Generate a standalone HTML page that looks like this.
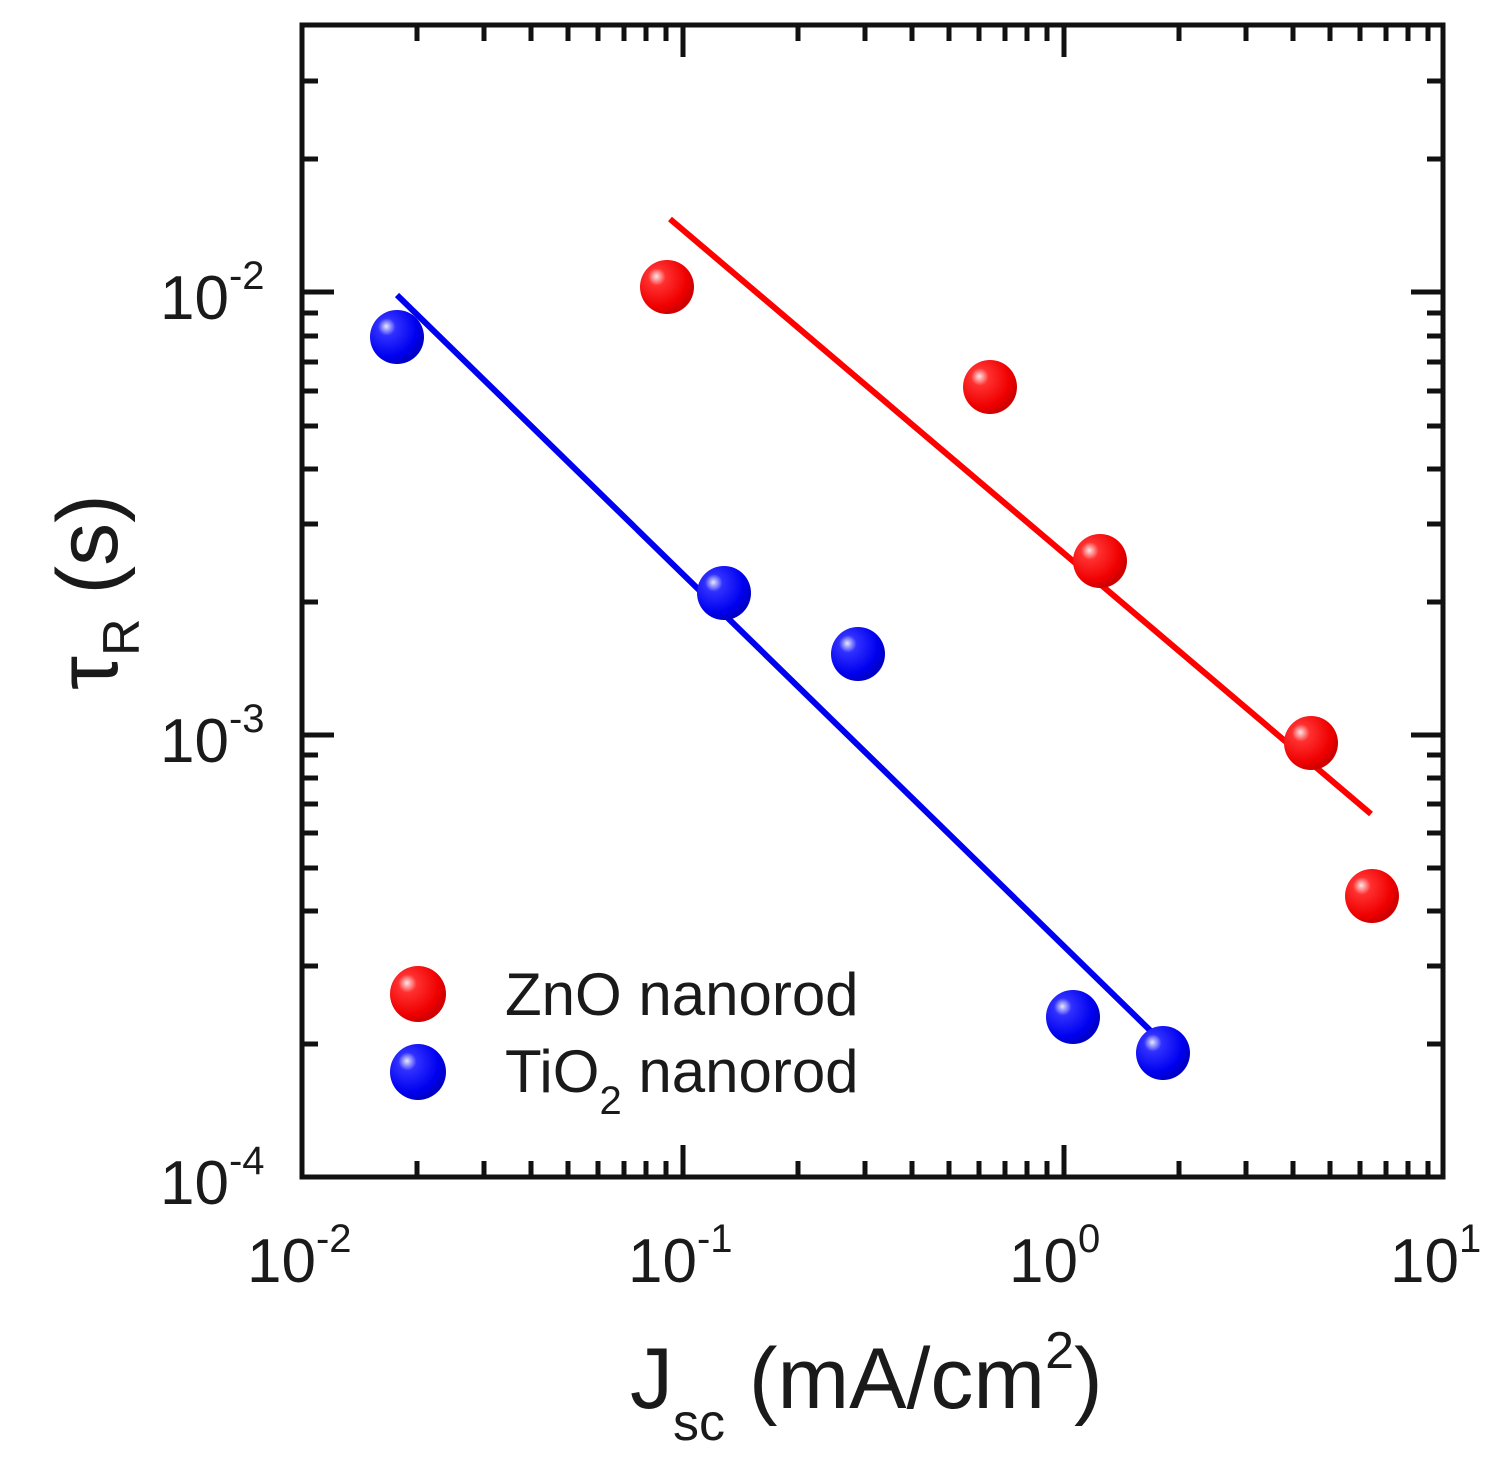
<!DOCTYPE html>
<html><head><meta charset="utf-8"><style>
html,body{margin:0;padding:0;background:#fff;}
svg{display:block;}
text{font-family:"Liberation Sans",Arial,sans-serif;fill:#1a1a1a;}
</style></head><body>
<svg width="1501" height="1471" viewBox="0 0 1501 1471" xmlns="http://www.w3.org/2000/svg">
<defs>
<radialGradient id="rg" cx="0.35" cy="0.35" r="0.65" fx="0.3" fy="0.3">
<stop offset="0" stop-color="#ffe8e8"/><stop offset="0.25" stop-color="#ff3030"/><stop offset="0.8" stop-color="#f00000"/><stop offset="1" stop-color="#d00000"/>
</radialGradient>
<radialGradient id="bg" cx="0.35" cy="0.35" r="0.65" fx="0.3" fy="0.3">
<stop offset="0" stop-color="#e8e8ff"/><stop offset="0.25" stop-color="#3030ff"/><stop offset="0.8" stop-color="#0000f0"/><stop offset="1" stop-color="#0000c8"/>
</radialGradient>
</defs>
<g stroke="#111" stroke-width="5" fill="none">
<rect x="302" y="25" width="1141" height="1152"/>
<path d="M683 1177v-32M1064 1177v-32M683 25v32M1064 25v32
M417 1177v-16M484 1177v-16M531 1177v-16M568 1177v-16M598 1177v-16M624 1177v-16M646 1177v-16M666 1177v-16
M798 1177v-16M865 1177v-16M912 1177v-16M949 1177v-16M979 1177v-16M1005 1177v-16M1027 1177v-16M1047 1177v-16
M1179 1177v-16M1246 1177v-16M1293 1177v-16M1330 1177v-16M1360 1177v-16M1386 1177v-16M1408 1177v-16M1428 1177v-16
M417 25v16M484 25v16M531 25v16M568 25v16M598 25v16M624 25v16M646 25v16M666 25v16
M798 25v16M865 25v16M912 25v16M949 25v16M979 25v16M1005 25v16M1027 25v16M1047 25v16
M1179 25v16M1246 25v16M1293 25v16M1330 25v16M1360 25v16M1386 25v16M1408 25v16M1428 25v16
M302 735h32M302 292h32M1443 735h-32M1443 292h-32
M302 1044h16M302 966h16M302 911h16M302 868h16M302 833h16M302 804h16M302 778h16M302 755h16
M302 602h16M302 524h16M302 469h16M302 426h16M302 391h16M302 362h16M302 336h16M302 313h16
M302 159h16M302 81h16
M1443 1044h-16M1443 966h-16M1443 911h-16M1443 868h-16M1443 833h-16M1443 804h-16M1443 778h-16M1443 755h-16
M1443 602h-16M1443 524h-16M1443 469h-16M1443 426h-16M1443 391h-16M1443 362h-16M1443 336h-16M1443 313h-16
M1443 159h-16M1443 81h-16"/>
</g>
<line x1="670" y1="219" x2="1371" y2="814" stroke="#f00" stroke-width="6"/>
<line x1="397" y1="295" x2="1160" y2="1040" stroke="#0000f0" stroke-width="6"/>
<g>
<circle cx="667" cy="287" r="27" fill="url(#rg)"/>
<circle cx="990" cy="387" r="27" fill="url(#rg)"/>
<circle cx="1100" cy="561" r="27" fill="url(#rg)"/>
<circle cx="1311" cy="743" r="27" fill="url(#rg)"/>
<circle cx="1372" cy="896" r="27" fill="url(#rg)"/>
<circle cx="397" cy="337" r="27" fill="url(#bg)"/>
<circle cx="724" cy="593" r="27" fill="url(#bg)"/>
<circle cx="858" cy="654" r="27" fill="url(#bg)"/>
<circle cx="1073" cy="1017" r="27" fill="url(#bg)"/>
<circle cx="1163" cy="1053" r="27" fill="url(#bg)"/>
<circle cx="418" cy="994" r="28" fill="url(#rg)"/>
<circle cx="418" cy="1072" r="28" fill="url(#bg)"/>
</g>
<text x="505" y="1015" font-size="60">ZnO nanorod</text>
<text x="505" y="1092" font-size="60">TiO<tspan font-size="40" dy="22">2</tspan><tspan dy="-22"> nanorod</tspan></text>
<g font-size="62">
<text x="160" y="319">10<tspan font-size="40" dy="-30">-2</tspan></text>
<text x="160" y="762">10<tspan font-size="40" dy="-30">-3</tspan></text>
<text x="160" y="1204">10<tspan font-size="40" dy="-30">-4</tspan></text>
<text x="247" y="1282">10<tspan font-size="40" dy="-30">-2</tspan></text>
<text x="628" y="1282">10<tspan font-size="40" dy="-30">-1</tspan></text>
<text x="1009" y="1282">10<tspan font-size="40" dy="-30">0</tspan></text>
<text x="1390" y="1282">10<tspan font-size="40" dy="-30">1</tspan></text>
</g>
<text x="630" y="1408" font-size="86">J<tspan font-size="52" dy="32">sc</tspan><tspan dy="-32"> (mA/cm</tspan><tspan font-size="52" dy="-40">2</tspan><tspan dy="40">)</tspan></text>
<text transform="translate(117,690) rotate(-90)" font-size="86">τ<tspan font-size="52" dy="22">R</tspan><tspan dy="-22"> (s)</tspan></text>
</svg>
</body></html>
